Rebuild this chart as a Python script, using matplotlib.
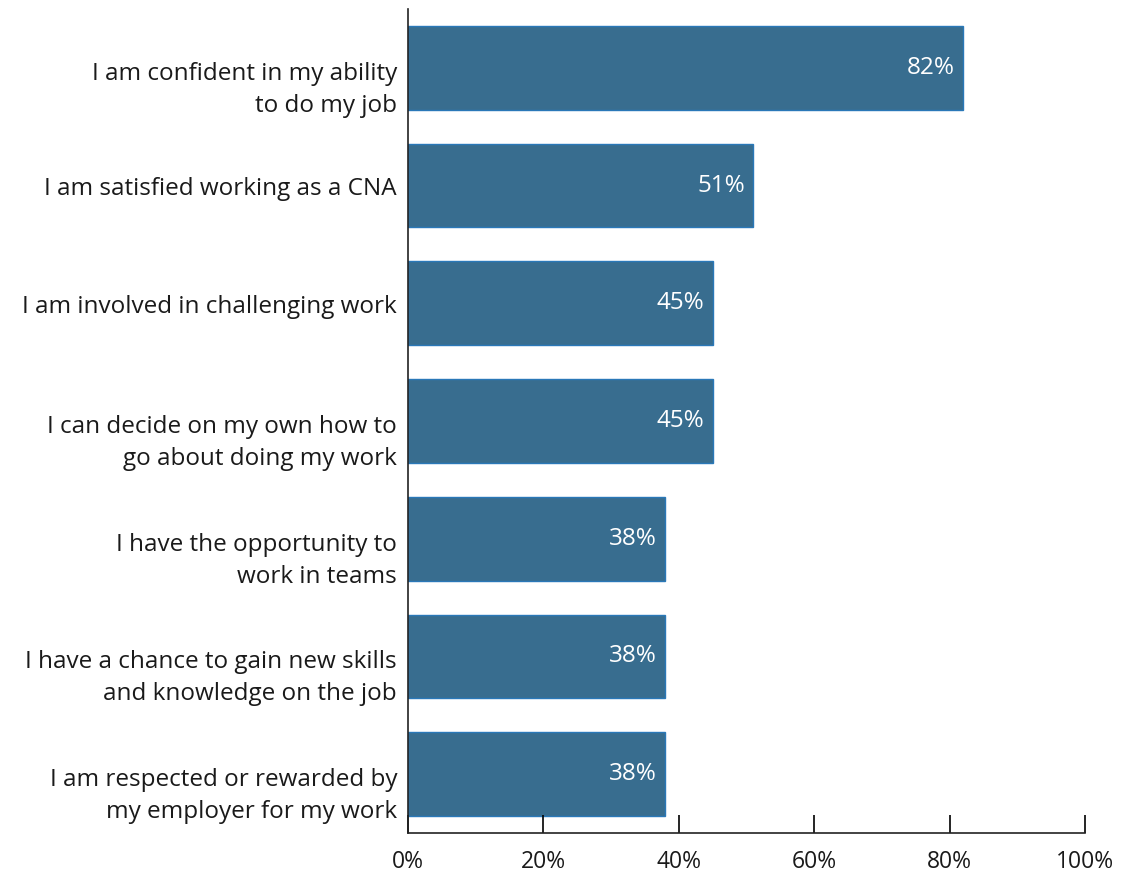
import matplotlib.pyplot as plt
from matplotlib.ticker import PercentFormatter
from matplotlib.transforms import ScaledTranslation

# survey statements and share agreeing (%)
statements = [
    "I am confident in my ability\nto do my job",
    "I am satisfied working as a CNA",
    "I am involved in challenging work",
    "I can decide on my own how to\ngo about doing my work",
    "I have the opportunity to\nwork in teams",
    "I have a chance to gain new skills\nand knowledge on the job",
    "I am respected or rewarded by\nmy employer for my work",
]
percents = [82, 51, 45, 45, 38, 38, 38]

plt.rcParams["font.family"] = ["Open Sans", "DejaVu Sans"]

fig = plt.figure(figsize=(11.24, 8.73), dpi=100)
ax = fig.add_axes([0.363, 0.0458, 0.6023, 0.9439])

pos = list(range(len(statements)))
bars = ax.barh(pos, percents, height=0.71, color="#386D8F",
               edgecolor="#2A78B8", linewidth=1.0)

for b, v in zip(bars, percents):
    ax.text(v - 1.2, b.get_y() + b.get_height() / 2, f"{v}%",
            ha="right", va="center", color="white", fontsize=17.5)

# category labels drawn by hand: two-line ones are pushed down
# so their first line sits level with the bar
ax.set_yticks(pos)
ax.set_yticklabels([])
ytrans = ax.get_yaxis_transform()
for p, s in zip(pos, statements):
    dy = -0.22 if "\n" in s else -0.035
    off = ScaledTranslation(-0.11, dy, fig.dpi_scale_trans)
    ax.text(0, p, s, transform=ytrans + off, ha="right", va="center",
            multialignment="right", fontsize=17.5, linespacing=1.45,
            color="#1a1a1a")

ax.set_ylim(6.5, -0.5)
ax.set_xlim(0, 100)
ax.set_xticks([0, 20, 40, 60, 80, 100])
ax.xaxis.set_major_formatter(PercentFormatter(decimals=0))

ax.tick_params(axis="y", length=0)
ax.tick_params(axis="x", direction="in", length=13, width=1.2,
               labelsize=16.5, pad=12, labelcolor="#1a1a1a")

for side in ["top", "right"]:
    ax.spines[side].set_visible(False)
for side in ["left", "bottom"]:
    ax.spines[side].set_linewidth(1.2)
    ax.spines[side].set_color("#222222")

fig.savefig("out.png", dpi=100)
